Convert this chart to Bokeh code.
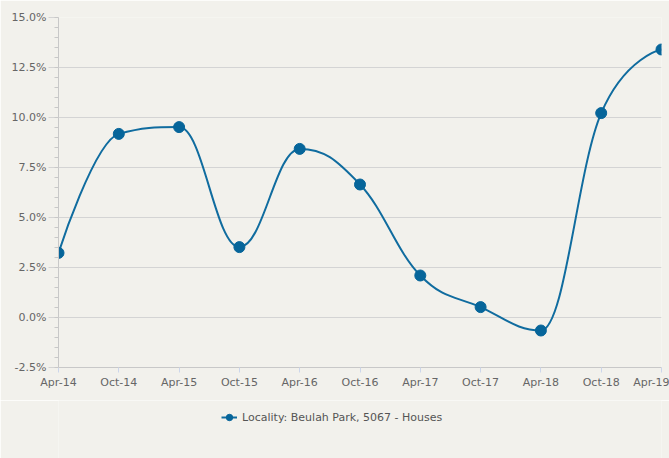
import numpy as np
from bokeh.plotting import figure
from bokeh.layouts import column
from bokeh.models import FixedTicker, Range1d, Legend, LegendItem, ColumnDataSource, CustomJSTickFormatter
from bokeh.embed import file_html
from bokeh.resources import INLINE

periods = ["Apr-14", "Oct-14", "Apr-15", "Oct-15", "Apr-16", "Oct-16",
           "Apr-17", "Oct-17", "Apr-18", "Oct-18", "Apr-19"]
growth = [3.23, 9.18, 9.52, 3.52, 8.43, 6.65, 2.10, 0.52, -0.65, 10.22, 13.40]
y_ticks = [-2.5, 0.0, 2.5, 5.0, 7.5, 10.0, 12.5, 15.0]
series_name = "Locality: Beulah Park, 5067 - Houses"

BG = "#f2f1ec"
LINE = "#106c9f"
MARK = "#06659a"

xs = list(range(len(periods)))

# Highcharts-style spline control points (smoothing 1.5)
def spline_segments(x, y, smoothing=1.5):
    n = len(x)
    denom = smoothing + 1
    lc = [None] * n
    rc = [None] * n
    for i in range(1, n - 1):
        px, py = x[i], y[i]
        lx, ly = x[i - 1], y[i - 1]
        nx, ny = x[i + 1], y[i + 1]
        lcx = (smoothing * px + lx) / denom
        lcy = (smoothing * py + ly) / denom
        rcx = (smoothing * px + nx) / denom
        rcy = (smoothing * py + ny) / denom
        corr = ((rcy - lcy) * (rcx - px)) / (rcx - lcx) + py - rcy
        lcy += corr
        rcy += corr
        if lcy > ly and lcy > py:
            lcy = max(ly, py)
            rcy = 2 * py - lcy
        elif lcy < ly and lcy < py:
            lcy = min(ly, py)
            rcy = 2 * py - lcy
        if rcy > ny and rcy > py:
            rcy = max(ny, py)
            lcy = 2 * py - rcy
        elif rcy < ny and rcy < py:
            rcy = min(ny, py)
            lcy = 2 * py - rcy
        lc[i] = (lcx, lcy)
        rc[i] = (rcx, rcy)
    seg = dict(x0=[], y0=[], x1=[], y1=[], cx0=[], cy0=[], cx1=[], cy1=[])
    for i in range(1, n):
        a = rc[i - 1] if rc[i - 1] is not None else (x[i - 1], y[i - 1])
        b = lc[i] if lc[i] is not None else (x[i], y[i])
        seg["x0"].append(x[i - 1]); seg["y0"].append(y[i - 1])
        seg["x1"].append(x[i]); seg["y1"].append(y[i])
        seg["cx0"].append(a[0]); seg["cy0"].append(a[1])
        seg["cx1"].append(b[0]); seg["cy1"].append(b[1])
    return seg

p = figure(frame_width=603, frame_height=350, output_backend="svg", toolbar_location=None,
           x_range=Range1d(0, 10), y_range=Range1d(-2.5, 15),
           min_border_left=58, min_border_right=8, min_border_top=17,
           min_border_bottom=33, background_fill_color=BG,
           border_fill_color=BG, outline_line_color=None)

seg_src = ColumnDataSource(spline_segments(xs, growth))
curve = p.bezier(x0="x0", y0="y0", x1="x1", y1="y1", cx0="cx0", cy0="cy0",
                 cx1="cx1", cy1="cy1", source=seg_src, line_color=LINE, line_width=2)
pts = p.scatter(xs, growth, size=11, fill_color=MARK, line_color=MARK)

# axes
p.xaxis.ticker = FixedTicker(ticks=xs)
p.xaxis.major_label_overrides = {i: s for i, s in enumerate(periods)}
p.xaxis.axis_line_color = "#c8c8c8"
p.xaxis.major_tick_line_color = "#ccd6eb"
p.xaxis.major_tick_in = 0
p.xaxis.major_tick_out = 5
p.xaxis.minor_tick_line_color = None
p.xaxis.major_label_standoff = 3

p.yaxis.ticker = FixedTicker(ticks=y_ticks, minor_ticks=list(np.arange(-2.5, 15.01, 0.5)))
p.yaxis.formatter = CustomJSTickFormatter(code="return tick.toFixed(1) + '%';")
p.yaxis.axis_line_color = "#c8c8c8"
p.yaxis.major_tick_line_color = "#d4d4d4"
p.yaxis.major_tick_in = 0
p.yaxis.major_tick_out = 10
p.yaxis.minor_tick_line_color = "#c8c8c8"
p.yaxis.minor_tick_in = 0
p.yaxis.minor_tick_out = 4
p.yaxis.major_label_standoff = 2

for ax in (p.xaxis, p.yaxis):
    ax.major_label_text_font = "DejaVu Sans"
    ax.major_label_text_font_size = "11px"
    ax.major_label_text_color = "#666666"

p.xgrid.grid_line_color = None
p.ygrid.grid_line_color = "#d4d4d4"
p.ygrid.ticker = FixedTicker(ticks=y_ticks)

# legend strip below the chart (its series lies outside this strip's ranges,
# so only the legend key is visible)
lg = figure(width=669, height=58, output_backend="svg", toolbar_location=None,
            x_axis_type=None, y_axis_type=None, x_range=Range1d(100, 101), y_range=Range1d(100, 101),
            min_border_left=0, min_border_right=0, min_border_top=0, min_border_bottom=0,
            background_fill_color=BG, border_fill_color=BG, outline_line_color=None)
lg.xgrid.grid_line_color = None
lg.ygrid.grid_line_color = None
key_line = lg.line(x=xs, y=growth, line_color=LINE, line_width=2)
key_mark = lg.scatter(x=xs, y=growth, size=11, fill_color=MARK, line_color=MARK)

legend = Legend(items=[LegendItem(label=series_name, renderers=[key_line, key_mark], index=0)],
                location=(163, 33), orientation="horizontal", margin=0,
                background_fill_alpha=0, border_line_color=None,
                glyph_width=16, glyph_height=16, label_standoff=5, padding=5,
                label_text_font="DejaVu Sans", label_text_font_size="11px",
                label_text_color="#555555")
lg.add_layout(legend, "center")

layout = column(p, lg, spacing=0)
open("out.html", "w").write(file_html(layout, INLINE))
